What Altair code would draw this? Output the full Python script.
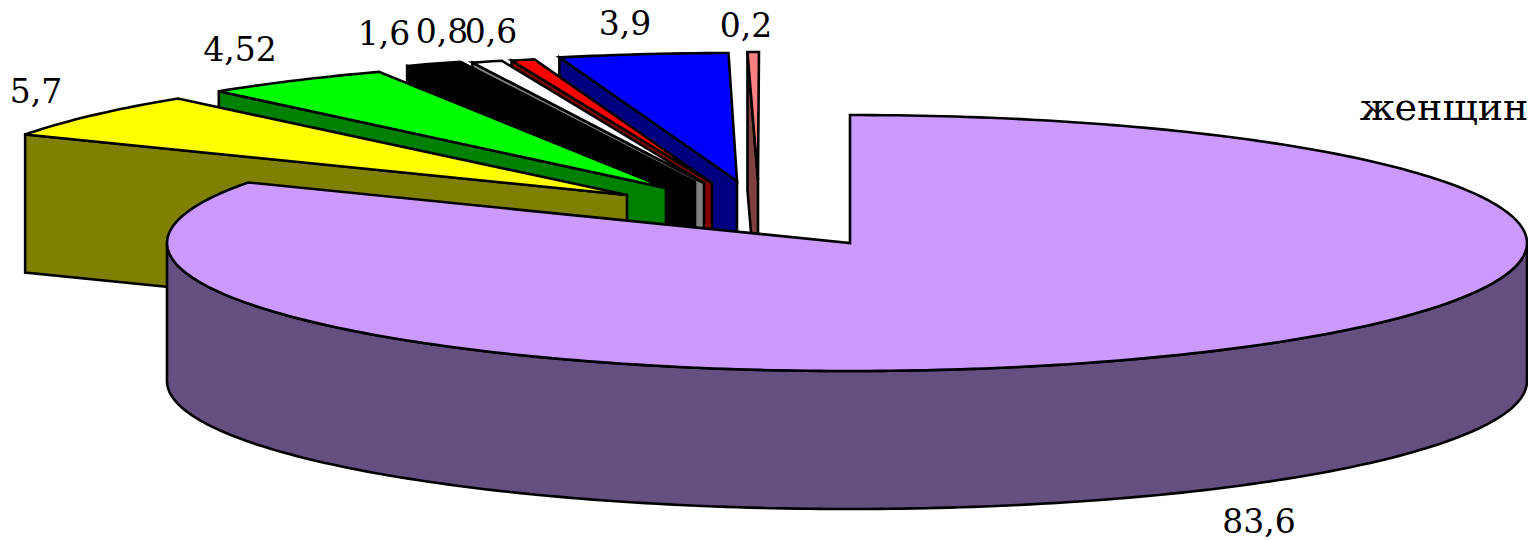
import math
import altair as alt

# --- chart values, clockwise from the top of the pie
CATEGORY_LABELS = ["83,6", "5,7", "4,52", "1,6", "0,8", "0,6", "3,9", "0,2"]
VALUES = [83.6, 5.7, 4.52, 1.6, 0.8, 0.6, 3.9, 0.2]
SERIES_TITLE = ["женщин"]

# --- styling and layout (reference-page pixels)
TOP_COLORS = ["#CC99FF", "#FFFF00", "#00FF00", "#000000", "#FFFFFF", "#FF0000", "#0000FF", "#FF8080"]
WALL_COLORS = ["#654E80", "#808000", "#008000", "#000000", "#808080", "#800000", "#000080", "#804040"]
APEX_X = [850, 627, 666, 695, 704, 712, 737, 758]
APEX_Y = [243, 195, 188, 182, 183, 183, 181, 180]
START_NUDGE = [0, 0, 0.55, 0.4, -0.2, -0.3, -0.45, -0.17]
END_NUDGE = [0, 0.35, 0.47, -0.45, -0.45, -0.45, 0, 0.08]
LABEL_X = [1259, 36, 240, 384, 442, 491, 625, 746]
LABEL_Y = [533, 103, 61, 45, 43, 43, 35, 37]
TITLE_X, TITLE_Y = [1444], [120]
RX, RY, DEPTH = 683, 128, 138
RX_RIGHT = 677  # right half pulled in so its outline stays on the page
MARGIN = 8
FONT = "DejaVu Serif"
FONT_SIZE, TITLE_SIZE = 33, 38


def rim(i, a):
    r = math.radians(a)
    rx = RX_RIGHT if i == 0 and math.sin(r) > 0 else RX
    return [APEX_X[i] + rx * math.sin(r) - MARGIN, APEX_Y[i] - RY * math.cos(r) - MARGIN]


def arc(i, a0, a1):
    n = max(2, int(abs(a1 - a0)) + 1)
    return [rim(i, a0 + (a1 - a0) * k / n) for k in range(n + 1)]


def feat(ring, fill):
    ring = ring + [ring[0]]
    return {"type": "Feature", "geometry": {"type": "Polygon", "coordinates": [ring]},
            "properties": {"fill": fill}}


total = sum(VALUES)
starts, a = [], 0.0
for i, v in enumerate(VALUES):
    starts.append((a + START_NUDGE[i], a + v / total * 360 + END_NUDGE[i]))
    a += v / total * 360

features = []
for i in range(len(VALUES) - 1, 0, -1):
    a0, a1 = starts[i]
    ax, ay = APEX_X[i] - MARGIN, APEX_Y[i] - MARGIN
    lx, ly = rim(i, a0)
    features.append(feat([[lx, ly], [ax, ay], [ax, ay + DEPTH], [lx, ly + DEPTH]], WALL_COLORS[i]))
    features.append(feat([[ax, ay]] + arc(i, a0, a1), TOP_COLORS[i]))

top = arc(0, 90, 270)
features.append(feat(top + [[x, y + DEPTH] for x, y in reversed(top)], WALL_COLORS[0]))
features.append(feat([[APEX_X[0] - MARGIN, APEX_Y[0] - MARGIN]] + arc(0, *starts[0]), TOP_COLORS[0]))

proj = alt.Projection(type="identity", scale=1, translate=[0, 0])

shapes = alt.Chart(alt.Data(values=features)).mark_geoshape(
    stroke="#000000", strokeWidth=2.6, strokeJoin="miter"
).encode(fill=alt.Fill("properties.fill:N", scale=None)).project(**proj.to_dict())

labels_data = [{"t": t, "lon": x - MARGIN, "lat": y - MARGIN}
               for t, x, y in zip(CATEGORY_LABELS, LABEL_X, LABEL_Y)]
labels = alt.Chart(alt.Data(values=labels_data)).mark_text(
    font=FONT, fontSize=FONT_SIZE, color="#000000", align="center", baseline="alphabetic"
).encode(longitude="lon:Q", latitude="lat:Q", text="t:N").project(**proj.to_dict())

title_data = [{"t": SERIES_TITLE[0], "lon": TITLE_X[0] - MARGIN, "lat": TITLE_Y[0] - MARGIN}]
title = alt.Chart(alt.Data(values=title_data)).mark_text(
    font=FONT, fontSize=TITLE_SIZE, color="#000000", align="center", baseline="alphabetic"
).encode(longitude="lon:Q", latitude="lat:Q", text="t:N").project(**proj.to_dict())

chart = alt.layer(shapes, labels, title).properties(
    width=1520, height=532, padding=0,
    autosize=alt.AutoSizeParams(type="none"),
).configure_view(stroke=None)

chart.save("out.html", embed_options={"renderer": "svg", "actions": False})
